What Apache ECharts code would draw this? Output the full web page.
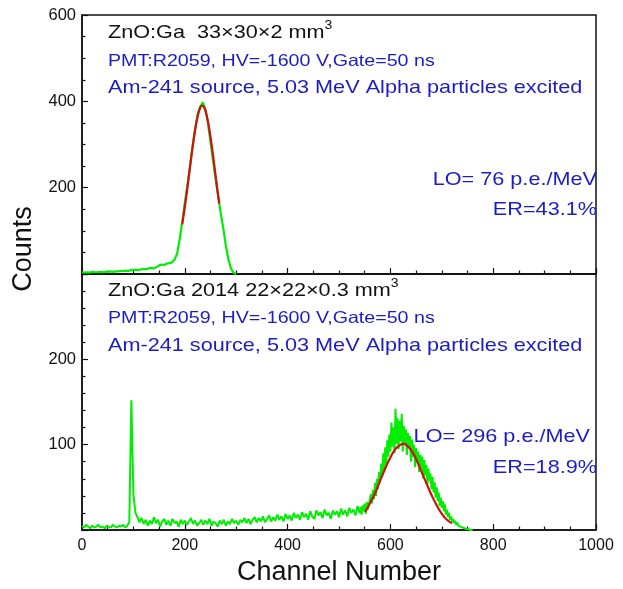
<!DOCTYPE html>
<html>
<head>
<meta charset="utf-8">
<script src="https://cdn.jsdelivr.net/npm/echarts@6/dist/echarts.min.js"></script>
<style>
  html, body { margin: 0; padding: 0; background: #fff; }
  #chart { width: 623px; height: 589px; }
</style>
</head>
<body>
<div id="chart"></div>
<script>
// Upper spectrum: 33x30x2 mm3 sample, counts per 5-channel step starting at channel 0
const topStep = 5;
const topCounts = [
  4, 3, 4, 3, 5, 4, 4, 5, 4, 5,
  5, 6, 5, 6, 6, 7, 7, 8, 7, 9,
  9, 10, 9, 11, 12, 11, 13, 14, 13, 16,
  20, 22, 21, 24, 25, 27, 33, 47, 80, 120,
  165, 205, 250, 295, 335, 370, 388, 398, 382, 350,
  305, 262, 220, 180, 140, 105, 65, 33, 12, 3, 0
];
// Gaussian fit of the upper alpha peak
const topFitChannels = [195, 200, 205, 210, 215, 220, 225, 230, 234, 238, 243, 248, 253, 258, 263, 267];
const topFitCounts   = [115, 155, 199, 246, 292, 333, 365, 385, 390, 385, 365, 333, 292, 246, 199, 163];

// Lower spectrum: 2014 22x22x0.3 mm3 sample.
// Low-energy part, counts per 4-channel step from channel 0 to 536
const bottomStep = 4;
const bottomCounts = [
  5, 3, 6, 4, 2, 5, 3, 4, 6, 3, 4, 2, 5, 4, 3, 6, 4, 3, 5, 4, 6, 3, 5,
  9, 152, 42, 20, 15,
  9, 14, 7, 12, 5, 11, 7, 15, 8, 12, 4, 10, 13, 6, 11, 5, 13, 8, 10, 4, 12, 7, 11,
  6, 10, 14, 7, 11, 5, 8, 12, 6, 11, 7, 13, 5, 10, 8, 4, 11, 7, 12, 5, 10, 7, 13, 8, 11,
  6, 12, 9, 14, 8, 13, 7, 12, 15, 9, 14, 10, 16, 9, 13, 17, 10, 15, 11, 18, 12, 16, 10, 19, 13,
  17, 11, 20, 14, 18, 12, 21, 15, 19, 12, 22, 16, 13, 23, 17, 21, 14, 24, 17, 20, 13, 23, 18, 22, 15,
  25, 18, 23, 16, 26, 20, 24, 17, 28
];
// Alpha peak part, counts per 2-channel step from channel 540 to 760
const peakStart = 540;
const peakStep = 2;
const peakCounts = [
  20, 27, 18, 29, 22, 31, 19, 33, 24, 30,
  28, 42, 31, 47, 36, 55, 40, 60, 48, 68,
  55, 78, 62, 90, 70, 97, 76, 105, 86, 112,
  92, 126, 98, 120, 90, 142, 101, 131, 95, 128,
  104, 136, 92, 122, 100, 118, 88, 114, 96, 110,
  80, 106, 86, 100, 74, 96, 80, 92, 68, 88,
  72, 86, 60, 82, 64, 76, 54, 72, 58, 66,
  48, 62, 44, 56, 38, 50, 34, 44, 28, 38,
  26, 34, 22, 30, 18, 24, 15, 20, 12, 16,
  10, 13, 8, 11, 6, 9, 5, 7, 4, 5,
  3, 4, 2, 3, 1, 2, 1, 2, 0, 1, 0
];
// Gaussian fit of the lower alpha peak
const bottomFitChannels = [551, 560, 570, 580, 590, 600, 610, 620, 625, 630, 640, 650, 660, 670, 680, 690, 700, 710, 720];
const bottomFitCounts   = [21, 31, 43, 58, 72, 85, 95, 100, 101, 100, 94, 83, 69, 55, 41, 29, 19, 12, 8];

const xTicks = [0, 200, 400, 600, 800, 1000];
const topYTicks = [200, 400, 600];
const bottomYTicks = [100, 200];

const FONT = '"Liberation Sans", Arial, sans-serif';
const BLUE = '#1c1cc4';
const GREEN = '#00ee00';
const RED = '#d01010';
const INK = '#111';

const stepPairs = (counts, step, start) => counts.map((c, i) => [start + i * step, c]);
const zipPairs = (xs, ys) => xs.map((x, i) => [x, ys[i]]);

function xAxisCfg(gridIndex, showLabels) {
  return {
    type: 'value', gridIndex, min: 0, max: 1000, interval: 200,
    axisLine: { show: true, onZero: false, lineStyle: { color: INK, width: 1.5 } },
    axisTick: { show: true, inside: true, length: 6, lineStyle: { color: INK, width: 1.2 } },
    minorTick: { show: true, splitNumber: 4, length: 3.5, lineStyle: { color: INK, width: 1.2 } },
    splitLine: { show: false },
    axisLabel: {
      show: showLabels, color: INK, fontFamily: FONT, fontSize: 16, margin: 8,
      formatter: v => xTicks.includes(v) ? String(v) : ''
    }
  };
}

function yAxisCfg(gridIndex, max, interval, minorSplit, labels) {
  return {
    type: 'value', gridIndex, min: 0, max, interval,
    axisLine: { show: true, onZero: false, lineStyle: { color: INK, width: 1.5 } },
    axisTick: { show: true, inside: true, length: 6, lineStyle: { color: INK, width: 1.2 } },
    minorTick: { show: true, splitNumber: minorSplit, length: 3.5, lineStyle: { color: INK, width: 1.2 } },
    splitLine: { show: false },
    axisLabel: {
      color: INK, fontFamily: FONT, fontSize: 16.5, margin: 6,
      formatter: v => labels.includes(v) ? String(v) : ''
    }
  };
}

// Plain annotation, stretched slightly wider than the face's natural width
function note(x, y, text, color, size, align, stretch) {
  return {
    type: 'text', x, y, scaleX: stretch || 1.14,
    style: { text, fill: color, font: size + 'px ' + FONT, align: align || 'left', verticalAlign: 'middle' }
  };
}

// Sample description with a cubic-millimetre superscript
function headline(x, y, body) {
  return {
    type: 'text', x, y, scaleX: 1.17,
    style: {
      text: '{a|' + body + '}{s|3}',
      verticalAlign: 'middle',
      rich: {
        a: { fill: INK, fontSize: 18.5, fontFamily: FONT, verticalAlign: 'bottom' },
        s: { fill: INK, fontSize: 12, fontFamily: FONT, verticalAlign: 'top', padding: [0, 0, 10, 0] }
      }
    }
  };
}

const chart = echarts.init(document.getElementById('chart'), null, { renderer: 'canvas' });
chart.setOption({
  backgroundColor: '#fff',
  animation: false,
  grid: [
    { left: 82, top: 15, width: 514, height: 259, show: true, borderColor: INK, borderWidth: 1.5, backgroundColor: 'transparent' },
    { left: 82, top: 274, width: 514, height: 256, show: true, borderColor: INK, borderWidth: 1.5, backgroundColor: 'transparent' }
  ],
  xAxis: [xAxisCfg(0, false), xAxisCfg(1, true)],
  yAxis: [
    yAxisCfg(0, 600, 200, 4, topYTicks),
    yAxisCfg(1, 300, 100, 5, bottomYTicks)
  ],
  series: [
    {
      type: 'line', xAxisIndex: 0, yAxisIndex: 0, data: stepPairs(topCounts, topStep, 0),
      showSymbol: false, lineStyle: { color: GREEN, width: 2.2 }, z: 2
    },
    {
      type: 'line', xAxisIndex: 0, yAxisIndex: 0, data: zipPairs(topFitChannels, topFitCounts),
      smooth: true, showSymbol: false, lineStyle: { color: RED, width: 2.2 }, z: 3
    },
    {
      type: 'line', xAxisIndex: 1, yAxisIndex: 1,
      data: stepPairs(bottomCounts, bottomStep, 0).concat(stepPairs(peakCounts, peakStep, peakStart)),
      showSymbol: false, lineStyle: { color: GREEN, width: 2 }, z: 2
    },
    {
      type: 'line', xAxisIndex: 1, yAxisIndex: 1, data: zipPairs(bottomFitChannels, bottomFitCounts),
      smooth: true, showSymbol: false, lineStyle: { color: RED, width: 2.2 }, z: 3
    }
  ],
  graphic: [
    headline(108, 31, 'ZnO:Ga  33×30×2 mm'),
    note(108, 61, 'PMT:R2059, HV=-1600 V,Gate=50 ns', BLUE, 16.5, 'left', 1.19),
    note(108, 88, 'Am-241 source, 5.03 MeV Alpha particles excited', BLUE, 19),
    note(597, 180, 'LO= 76 p.e./MeV', BLUE, 19, 'right'),
    note(597, 210, 'ER=43.1%', BLUE, 19, 'right'),

    headline(108, 289, 'ZnO:Ga 2014 22×22×0.3 mm'),
    note(108, 318, 'PMT:R2059, HV=-1600 V,Gate=50 ns', BLUE, 16.5, 'left', 1.19),
    note(108, 345.5, 'Am-241 source, 5.03 MeV Alpha particles excited', BLUE, 19),
    note(590, 437, 'LO= 296 p.e./MeV', BLUE, 19, 'right'),
    note(597, 467.5, 'ER=18.9%', BLUE, 19, 'right'),

    {
      type: 'text', x: 24, y: 249, rotation: Math.PI / 2,
      style: { text: 'Counts', fill: INK, font: '27px ' + FONT, align: 'center', verticalAlign: 'middle' }
    },
    {
      type: 'text', x: 339, y: 573,
      style: { text: 'Channel Number', fill: INK, font: '27px ' + FONT, align: 'center', verticalAlign: 'middle' }
    }
  ]
});
</script>
</body>
</html>
